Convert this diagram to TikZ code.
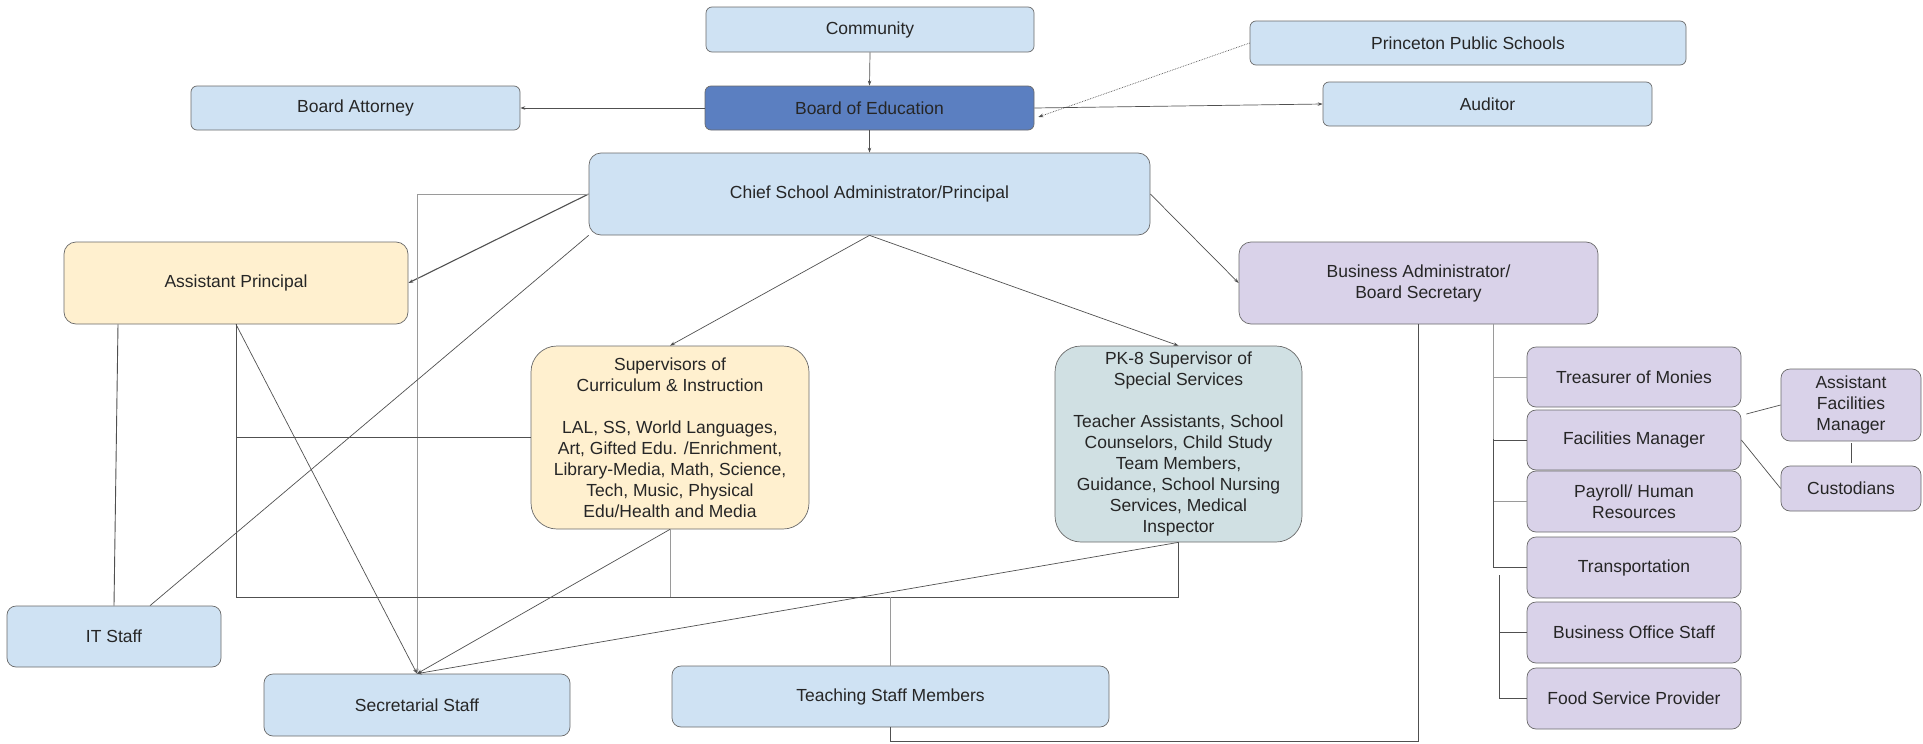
\documentclass[tikz,border=0pt]{standalone}
\usepackage{fontspec}
\setmainfont{Liberation Sans}
\usetikzlibrary{arrows.meta,calc}
\definecolor{lblue}{HTML}{CFE2F3}
\definecolor{dblue}{HTML}{5B7FC1}
\definecolor{lyellow}{HTML}{FFF0CF}
\definecolor{lpurple}{HTML}{D9D2E9}
\definecolor{lcyan}{HTML}{D0E0E3}
\definecolor{bordergray}{HTML}{6A6A6A}
\definecolor{linegray}{HTML}{505050}
\definecolor{lightline}{HTML}{9A9A9A}
\definecolor{txt}{HTML}{262626}
\begin{document}
\begin{tikzpicture}[x=1pt,y=-1pt,
  box/.style={draw=bordergray, line width=0.7pt, rounded corners=6pt, align=center, inner sep=0pt,
    font=\fontsize{17.5}{21}\selectfont, text=txt},
  bluebox/.style={box, fill=lblue},
  purplebox/.style={box, fill=lpurple},
  conn/.style={draw=linegray, line width=0.7pt},
  lconn/.style={draw=lightline, line width=0.7pt},
  arr/.style={-{Stealth[length=5pt,width=3.5pt]}}
]
\useasboundingbox (0,0) rectangle (1923,744);

% nodes
\node[bluebox, minimum width=328pt, minimum height=45pt] (comm) at (870,29.5) {Community};
\node[box, fill=dblue, minimum width=329pt, minimum height=44pt] (boe) at (869.5,108) {Board of Education};
\node[bluebox, minimum width=329pt, minimum height=44pt] (att) at (355.5,108) {Board Attorney};
\node[bluebox, minimum width=436pt, minimum height=44pt] (pps) at (1468,43) {Princeton Public Schools};
\node[bluebox, minimum width=329pt, minimum height=44pt] (aud) at (1487.5,104) {Auditor};
\node[bluebox, rounded corners=12pt, minimum width=561pt, minimum height=82pt] (chief) at (869.5,194) {Chief School Administrator/Principal};
\node[box, fill=lyellow, rounded corners=12pt, minimum width=344pt, minimum height=82pt] (ap) at (236,283) {Assistant Principal};
\node[purplebox, rounded corners=12pt, minimum width=359pt, minimum height=82pt] (ba) at (1418.5,283) {Business Administrator/\\Board Secretary};
\node[box, fill=lyellow, rounded corners=26pt, minimum width=278pt, minimum height=183pt] (sup) at (670,437.5)
  {Supervisors of\\Curriculum \& Instruction\\[21pt]LAL, SS, World Languages,\\Art, Gifted Edu. /Enrichment,\\Library-Media, Math, Science,\\Tech, Music, Physical\\Edu/Health and Media};
\node[box, fill=lcyan, rounded corners=26pt, minimum width=247pt, minimum height=196pt] (pk) at (1178.5,444)
  {PK-8 Supervisor of\\Special Services\\[21pt]Teacher Assistants, School\\Counselors, Child Study\\Team Members,\\Guidance, School Nursing\\Services, Medical\\Inspector};
\node[bluebox, rounded corners=9pt, minimum width=214pt, minimum height=61pt] (it) at (114,636.5) {IT Staff};
\node[bluebox, rounded corners=9pt, minimum width=306pt, minimum height=62pt] (sec) at (417,705) {Secretarial Staff};
\node[bluebox, rounded corners=9pt, minimum width=437pt, minimum height=61pt] (teach) at (890.5,696.5) {Teaching Staff Members};
\node[purplebox, rounded corners=9pt, minimum width=214pt, minimum height=60pt] (treas) at (1634,377) {Treasurer of Monies};
\node[purplebox, rounded corners=9pt, minimum width=214pt, minimum height=60pt] (fac) at (1634,440) {Facilities Manager};
\node[purplebox, rounded corners=9pt, minimum width=214pt, minimum height=61pt] (pay) at (1634,501.5) {Payroll/ Human\\Resources};
\node[purplebox, rounded corners=9pt, minimum width=214pt, minimum height=61pt] (trans) at (1634,567.5) {Transportation};
\node[purplebox, rounded corners=9pt, minimum width=214pt, minimum height=61pt] (bos) at (1634,632.5) {Business Office Staff};
\node[purplebox, rounded corners=9pt, minimum width=214pt, minimum height=61pt] (food) at (1634,698.5) {Food Service Provider};
\node[purplebox, rounded corners=9pt, minimum width=140pt, minimum height=72pt] (afm) at (1851,405) {Assistant\\Facilities\\Manager};
\node[purplebox, rounded corners=9pt, minimum width=140pt, minimum height=45pt] (cust) at (1851,488.5) {Custodians};

% coordinates
\coordinate (bus) at (0,597);
\coordinate (low) at (0,741);
\coordinate (bt) at (1493,324);
\coordinate (bt2) at (1499,575);

% top connectors
\draw[conn,arr] (comm.south) -- (boe.north);
\draw[conn,arr] (boe.west) -- (att.east);
\draw[conn,arr] (boe.east) -- (aud.west);
\draw[draw=linegray, line width=0.7pt, densely dotted, arr] (pps.west) -- ([xshift=4pt,yshift=-9pt]boe.east);
\draw[conn,arr] (boe.south) -- (chief.north);
\draw[conn, line width=1.1pt, arr] (chief.west) -- (ap.east);
\draw[conn,arr] (chief.south) -- (sup.north);
\draw[conn,arr] (chief.south) -- (pk.north);
\draw[conn,arr] (chief.east) -- (ba.west);

% secretarial staff
\draw[lconn,arr] (chief.west) -| (sec.north);
\draw[conn,arr] (ap.south) -- (sec.north);
\draw[conn,arr] (sup.south) -- (sec.north);
\draw[conn,arr] (pk.south) -- (sec.north);

% IT staff
\draw[conn] ([xshift=36pt]it.north) -- (chief.south west);
\draw[conn, line width=0.9pt] ([xshift=-118pt]ap.south) -- (it.north);

% teaching staff bus
\draw[conn, line width=0.9pt] (ap.south) -- (ap.south |- bus) -- (pk.south |- bus) -- (pk.south);
\draw[lconn] (sup.south) -- (sup.south |- bus);
\draw[lconn] (teach.north) -- (teach.north |- bus);
\draw[conn] (sup.west) -- (sup.west -| ap.south);
\draw[conn] (ba.south) -- (ba.south |- low) -| (teach.south);

% business tree
\draw[lconn] (bt) |- (treas.west);
\draw[conn] ([yshift=-53pt]bt) |- (fac.west);
\draw[lconn] (bt) |- (pay.west);
\draw[conn] ([yshift=-115pt]bt) |- (trans.west);
\draw[conn] (bt2) |- (bos.west);
\draw[conn] (bt2) |- (food.west);

% facilities
\draw[conn] ([xshift=5pt,yshift=26pt]fac.east) -- (afm.west);
\draw[conn] (fac.east) -- (cust.west);
\draw[conn, shorten <=2pt, shorten >=3pt] (afm.south) -- (cust.north);
\end{tikzpicture}
\end{document}
